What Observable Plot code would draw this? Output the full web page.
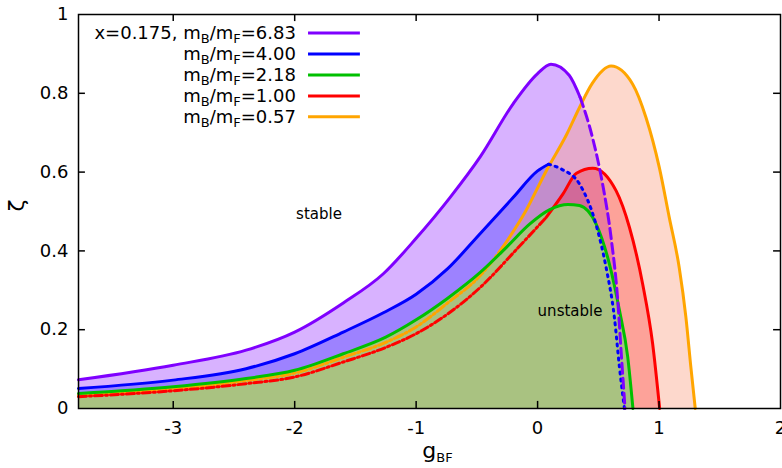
<!DOCTYPE html>
<html>
<head>
<meta charset="utf-8">
<script src="https://cdn.jsdelivr.net/npm/d3@7"></script>
<script src="https://cdn.jsdelivr.net/npm/@observablehq/plot@0.6"></script>
<style>
  body { margin: 0; background: #fff; }
  #chart svg { font-family: "DejaVu Sans", sans-serif; }
</style>
</head>
<body>
<div id="chart"></div>
<script>
// ---- data ----
const xTicks = [-3, -2, -1, 0, 1, 2];
const yTicks = [0, 0.2, 0.4, 0.6, 0.8, 1];
const legendLabels = ["x=0.175, m_B/m_F=6.83", "m_B/m_F=4.00", "m_B/m_F=2.18", "m_B/m_F=1.00", "m_B/m_F=0.57"];
const lineColors = ["#7f00ff", "#0000ff", "#00c000", "#ff0000", "#ffa500"];

// mB/mF = 6.83 (purple)
const gPurple = [-3.78, -3.0, -2.4, -2.0, -1.6, -1.27, -1.0, -0.72, -0.47, -0.2, 0.0, 0.11, 0.26, 0.35, 0.45, 0.535, 0.605, 0.66, 0.687, 0.72];
const zPurple = [0.073, 0.110, 0.148, 0.194, 0.268, 0.342, 0.432, 0.536, 0.64, 0.774, 0.85, 0.874, 0.846, 0.79, 0.69, 0.57, 0.434, 0.274, 0.148, 0.0];
// mB/mF = 4.00 (blue)
const gBlue = [-3.78, -3.0, -2.4, -2.0, -1.6, -1.27, -1.0, -0.74, -0.47, -0.2, 0.0, 0.09, 0.2, 0.345, 0.48, 0.564, 0.632, 0.674, 0.715];
const zBlue = [0.051, 0.072, 0.101, 0.139, 0.194, 0.243, 0.29, 0.355, 0.445, 0.536, 0.603, 0.62, 0.607, 0.57, 0.468, 0.358, 0.232, 0.105, 0.0];
// mB/mF = 2.18 (green)
const gGreen = [-3.78, -3.0, -2.4, -2.0, -1.6, -1.25, -1.0, -0.74, -0.47, -0.257, -0.066, 0.1, 0.25, 0.345, 0.482, 0.591, 0.674, 0.742, 0.785];
const zGreen = [0.038, 0.055, 0.076, 0.097, 0.139, 0.181, 0.225, 0.28, 0.346, 0.409, 0.468, 0.505, 0.518, 0.515, 0.468, 0.367, 0.249, 0.131, 0.0];
// mB/mF = 1.00 (red)
const gRed = [-3.78, -3.0, -2.4, -2.0, -1.6, -1.25, -1.0, -0.74, -0.47, -0.17, 0.071, 0.208, 0.32, 0.454, 0.646, 0.756, 0.865, 0.947, 1.005];
const zRed = [0.030, 0.045, 0.063, 0.080, 0.118, 0.155, 0.19, 0.240, 0.308, 0.405, 0.485, 0.544, 0.597, 0.61, 0.553, 0.46, 0.316, 0.165, 0.0];
// mB/mF = 0.57 (orange)
const gOrange = [-3.78, -3.0, -2.4, -2.0, -1.6, -1.25, -1.0, -0.74, -0.47, -0.285, -0.1, 0.071, 0.24, 0.345, 0.45, 0.605, 0.783, 0.893, 1.002, 1.084, 1.166, 1.221, 1.262, 1.298];
const zOrange = [0.034, 0.050, 0.071, 0.090, 0.130, 0.168, 0.207, 0.268, 0.338, 0.41, 0.50, 0.603, 0.696, 0.764, 0.825, 0.869, 0.823, 0.738, 0.612, 0.485, 0.358, 0.232, 0.105, 0.0];

// index where the line style changes (solid <-> dashed)
const splitPurple = 13;  // dashed after g=0.35
const splitBlue = 11;    // dotted after peak
const splitRed = 10;     // dash-dot before g=0.071
const splitOrange = 9;   // dash-dot before g=-0.285

// ---- build tables ----
const toRows = (gs, zs) => gs.map((g, i) => ({g, z: zs[i]}));
const purple = toRows(gPurple, zPurple);
const blue = toRows(gBlue, zBlue);
const green = toRows(gGreen, zGreen);
const red = toRows(gRed, zRed);
const orange = toRows(gOrange, zOrange);

const xDomain = [-3.78, 2];
const curve = "monotone-x";
const sw = 3;

const area = (data, fill, fillOpacity) => Plot.areaY(data, {x: "g", y: "z", fill, fillOpacity, curve});
const line = (data, stroke, dash) => Plot.line(data, {x: "g", y: "z", stroke, strokeWidth: sw, curve, strokeDasharray: dash});

const legendTop = 0.953, legendStep = 0.0532;

const plot = Plot.plot({
  width: 782,
  height: 468,
  marginLeft: 78,
  marginRight: 2,
  marginTop: 14,
  marginBottom: 60,
  style: {fontFamily: "DejaVu Sans, sans-serif", background: "#fff", color: "#000", overflow: "visible"},
  x: {domain: xDomain},
  y: {domain: [0, 1]},
  marks: [
    // fills
    area(purple, "#7f00ff", 0.3),
    area(blue, "#0000ff", 0.27),
    area(orange, "#fa9e80", 0.4),
    area(red, "#ff0000", 0.25),
    area(green, "#a9c281", 1),
    // lines
    line(orange.slice(0, splitOrange + 1), lineColors[4], "9,3,2,3"),
    line(orange.slice(splitOrange), lineColors[4], null),
    line(red.slice(0, splitRed + 1), lineColors[3], "8,3,2,3"),
    line(red.slice(splitRed), lineColors[3], null),
    line(green, lineColors[2], null),
    line(blue.slice(0, splitBlue + 1), lineColors[1], null),
    line(blue.slice(splitBlue), lineColors[1], "2,5"),
    line(purple.slice(0, splitPurple + 1), lineColors[0], null),
    line(purple.slice(splitPurple), lineColors[0], "10,5"),
    // frame and inward ticks (mirrored)
    Plot.frame({stroke: "#000", strokeWidth: 1.5}),
    Plot.ruleX(xTicks.filter(d => d < 2), {x: d => d, y1: 0, y2: 0.018, stroke: "#000", strokeWidth: 1.5}),
    Plot.ruleX(xTicks.filter(d => d < 2), {x: d => d, y1: 1, y2: 0.982, stroke: "#000", strokeWidth: 1.5}),
    Plot.ruleY(yTicks.filter(d => d > 0 && d < 1), {y: d => d, x1: xDomain[0], x2: xDomain[0] + 0.057, stroke: "#000", strokeWidth: 1.5}),
    Plot.ruleY(yTicks.filter(d => d > 0 && d < 1), {y: d => d, x1: xDomain[1], x2: xDomain[1] - 0.057, stroke: "#000", strokeWidth: 1.5}),
    // axes labels
    Plot.axisX({ticks: xTicks, tickSize: 0, tickPadding: 13, fontSize: 18, tickFormat: d => String(d), label: null}),
    Plot.axisY({ticks: yTicks, tickSize: 0, tickPadding: 10, fontSize: 18, tickFormat: d => String(d), label: null}),
    Plot.text(["ζ"], {frameAnchor: "left", dx: -62, rotate: -90, fontSize: 22}),
    Plot.text(["g_BF"], {frameAnchor: "bottom", dx: 8, dy: 49, fontSize: 22}),
    // region labels
    Plot.text(["stable"], {x: -1.8, y: 0.494, fontSize: 15}),
    Plot.text(["unstable"], {x: 0.267, y: 0.246, fontSize: 15}),
    // legend
    Plot.text(legendLabels, {x: -1.99, y: (d, i) => legendTop - i * legendStep, textAnchor: "end", fontSize: 18}),
    ...lineColors.map((c, i) => Plot.ruleY([legendTop - i * legendStep], {x1: -1.886, x2: -1.459, stroke: c, strokeWidth: sw}))
  ]
});

// subscripts: "_XY" -> XY as subscript
d3.select(plot).selectAll("text").each(function() {
  const t = this.textContent;
  if (!t.includes("_")) return;
  const fs = parseFloat(getComputedStyle(this).fontSize) || 18;
  const sub = Math.round(fs * 0.74), shift = Math.round(fs * 0.22);
  const parts = t.split(/_(\w+)/);
  const el = d3.select(this);
  el.text(null);
  let down = false;
  parts.forEach((p, i) => {
    if (!p) return;
    const isSub = i % 2 === 1;
    const ts = el.append("tspan").text(p);
    if (isSub) {
      ts.attr("font-size", sub).attr("dy", down ? 0 : shift);
      down = true;
    } else {
      ts.attr("dy", down ? -shift : 0);
      down = false;
    }
  });
});

document.getElementById("chart").appendChild(plot);
</script>
</body>
</html>
